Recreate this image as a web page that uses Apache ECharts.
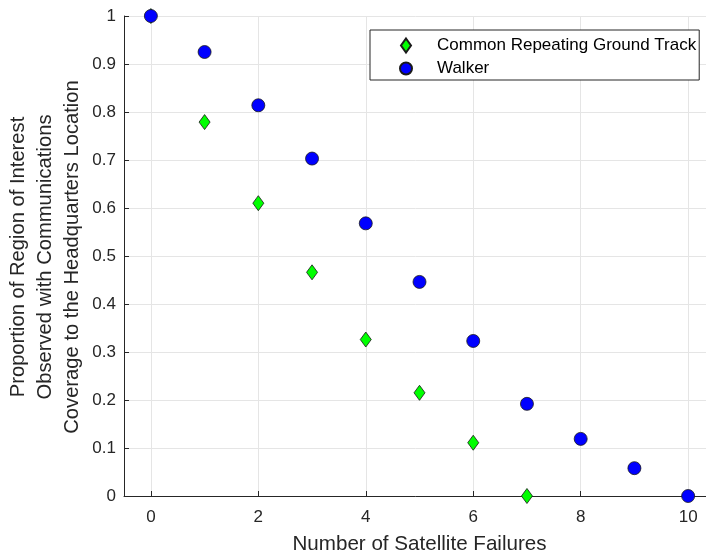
<!DOCTYPE html>
<html>
<head>
<meta charset="utf-8">
<script src="https://cdn.jsdelivr.net/npm/echarts@6/dist/echarts.min.js"></script>
<style>
  html, body { margin: 0; padding: 0; background: #fff; }
  #chart { width: 706px; height: 556px; }
</style>
</head>
<body>
<div id="chart"></div>
<script>
// Satellite failures on the x axis
const failures = [0, 1, 2, 3, 4, 5, 6, 7, 8, 9, 10];
// Proportion of region observed, per constellation type
const crgtValues = [1.0, 0.779, 0.610, 0.466, 0.326, 0.215, 0.111, 0.0];
const walkerValues = [1.0, 0.925, 0.814, 0.703, 0.568, 0.446, 0.323, 0.192, 0.119, 0.058, 0.0];
const seriesNames = ['Common Repeating Ground Track', 'Walker'];
const xTicks = [0, 2, 4, 6, 8, 10];
const yTicks = [0, 0.1, 0.2, 0.3, 0.4, 0.5, 0.6, 0.7, 0.8, 0.9, 1];
const yTitleLines = [
  'Proportion of Region of Interest',
  'Observed with Communications',
  'Coverage to the Headquarters Location'
];

const FONT = '"Liberation Sans", Arial, Helvetica, sans-serif';
const AXIS_COLOR = '#262626';
const GRID_COLOR = '#e5e5e5';

const chart = echarts.init(document.getElementById('chart'), null, { renderer: 'canvas' });

const pairs = (vals) => vals.map((v, i) => [failures[i], v]);

chart.setOption({
  animation: false,
  backgroundColor: '#ffffff',
  grid: {
    left: 124, top: 16, bottom: 60, right: -9,
    containLabel: false,
    outerBoundsMode: 'none'
  },
  xAxis: {
    type: 'value',
    min: -0.5,
    max: 10.5,
    name: 'Number of Satellite Failures',
    nameLocation: 'middle',
    nameGap: 38,
    nameTextStyle: { fontFamily: FONT, fontSize: 20.6, color: AXIS_COLOR },
    axisLine: { show: true, onZero: false, lineStyle: { color: AXIS_COLOR, width: 1 } },
    axisTick: {
      show: true, inside: true, length: 5, lineStyle: { color: AXIS_COLOR },
      customValues: xTicks
    },
    axisLabel: {
      fontFamily: FONT, fontSize: 17, color: AXIS_COLOR, margin: 13,
      customValues: xTicks,
      formatter: (v) => String(v)
    },
    splitLine: { show: true, lineStyle: { color: GRID_COLOR, width: 1 } }
  },
  yAxis: {
    type: 'value',
    min: 0,
    max: 1,
    interval: 0.1,
    axisLine: { show: true, onZero: false, lineStyle: { color: AXIS_COLOR, width: 1 } },
    axisTick: { show: true, inside: true, length: 5, lineStyle: { color: AXIS_COLOR } },
    axisLabel: {
      fontFamily: FONT, fontSize: 17, color: AXIS_COLOR, margin: 8,
      formatter: (v) => {
        const t = yTicks.find((k) => Math.abs(k - v) < 1e-6);
        return t === undefined ? '' : String(Math.round(t * 10) / 10);
      }
    },
    splitLine: { show: true, lineStyle: { color: GRID_COLOR, width: 1 } }
  },
  legend: {
    orient: 'vertical',
    left: 370,
    top: 30,
    padding: [7, 3, 3, 29],
    itemWidth: 12,
    itemHeight: 14,
    itemGap: 6,
    symbolKeepAspect: true,
    backgroundColor: '#ffffff',
    borderColor: '#262626',
    borderWidth: 1,
    borderRadius: 0,
    textStyle: { fontFamily: FONT, fontSize: 17, color: '#000000', padding: [0, 0, 0, 20] },
    data: [
      { name: seriesNames[0], icon: 'path://M5,0L10,7L5,14L0,7Z' },
      { name: seriesNames[1], icon: 'circle' }
    ]
  },
  graphic: [{
    type: 'text',
    x: 45,
    y: 257,
    rotation: Math.PI / 2,
    style: {
      text: yTitleLines.join('\n'),
      fontFamily: FONT,
      fontSize: 20.2,
      lineHeight: 27,
      fill: AXIS_COLOR,
      align: 'center',
      verticalAlign: 'middle'
    }
  }],
  series: [
    {
      name: seriesNames[0],
      type: 'scatter',
      data: pairs(crgtValues),
      symbol: 'diamond',
      symbolSize: [11, 15],
      clip: false,
      z: 2,
      itemStyle: { color: '#00ff00', borderColor: '#1a1a1a', borderWidth: 0.8, opacity: 1 }
    },
    {
      name: seriesNames[1],
      type: 'scatter',
      data: pairs(walkerValues),
      symbol: 'circle',
      symbolSize: 13,
      clip: false,
      z: 3,
      itemStyle: { color: '#0000ff', borderColor: '#1a1a1a', borderWidth: 0.8, opacity: 1 }
    }
  ]
});
</script>
</body>
</html>
